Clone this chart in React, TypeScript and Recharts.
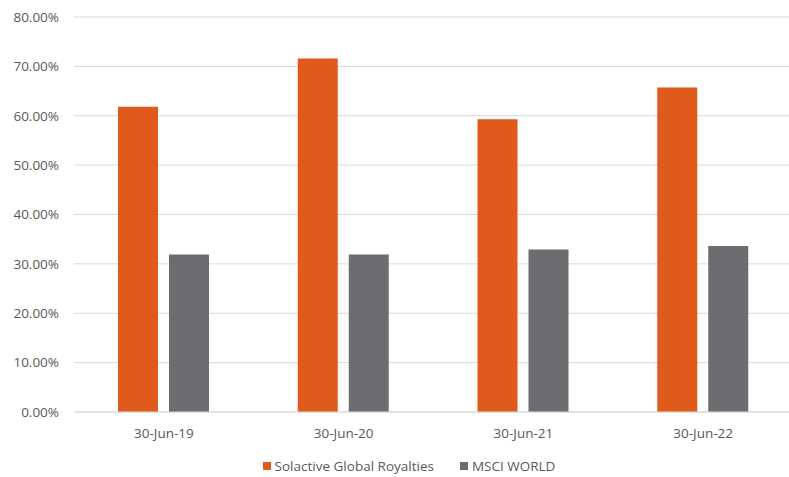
import React from "react";
import {
  BarChart,
  Bar,
  XAxis,
  YAxis,
  CartesianGrid,
  Legend,
} from "recharts";

const categories = ["30-Jun-19", "30-Jun-20", "30-Jun-21", "30-Jun-22"];
const solactive = [61.8, 71.6, 59.3, 65.7];
const msciWorld = [31.9, 31.9, 32.9, 33.6];
const yTicks = [0, 10, 20, 30, 40, 50, 60, 70, 80];
const edgeTicks = [0, 1, 2, 3, 4];

const SERIES = [
  { key: "solactive", name: "Solactive Global Royalties", color: "#E05A1B" },
  { key: "msci", name: "MSCI WORLD", color: "#6D6C71" },
];

const data = categories.map((c, i) => ({
  date: c,
  solactive: solactive[i],
  msci: msciWorld[i],
}));

const FONT = "'Open Sans', 'Noto Sans', sans-serif";
const TEXT = "#595959";
const GRID = "#D9D9D9";

const LegendContent = () => (
  <div
    style={{
      display: "flex",
      justifyContent: "center",
      paddingTop: 16,
      paddingLeft: 25,
      fontFamily: FONT,
      fontSize: 13.5,
      color: TEXT,
      lineHeight: "16px",
    }}
  >
    {SERIES.map((s, i) => (
      <div
        key={s.key}
        style={{ display: "flex", alignItems: "center", marginLeft: i ? 26 : 0 }}
      >
        <span
          style={{
            display: "inline-block",
            width: 8,
            height: 8,
            background: s.color,
            marginRight: 4,
          }}
        />
        <span>{s.name}</span>
      </div>
    ))}
  </div>
);

export default function App() {
  return (
    <div
      style={{
        position: "fixed",
        left: 0,
        top: 0,
        width: 789,
        height: 477,
        overflow: "hidden",
        background: "#fff",
      }}
    >
      <BarChart
        width={800}
        height={477}
        data={data}
        margin={{ top: 17, right: 7, bottom: 0, left: 0 }}
        barSize={40}
        barGap={11}
      >
        <CartesianGrid horizontal vertical={false} stroke={GRID} strokeWidth={1} />
        <XAxis
          xAxisId="edges"
          type="number"
          domain={[0, 4]}
          ticks={edgeTicks}
          tick={false}
          axisLine={false}
          tickLine={{ stroke: GRID }}
          tickSize={5}
          height={0}
        />
        <XAxis
          xAxisId="cat"
          dataKey="date"
          axisLine={{ stroke: GRID }}
          tickLine={false}
          tickSize={0}
          tickMargin={16}
          height={30}
          tick={{ fill: TEXT, fontSize: 13.5, fontFamily: FONT }}
        />
        <YAxis
          width={74}
          domain={[0, 80]}
          ticks={yTicks}
          interval={0}
          axisLine={false}
          tickLine={false}
          tickSize={0}
          tickMargin={15}
          tickFormatter={(v: number) => v.toFixed(2) + "%"}
          tick={{ fill: TEXT, fontSize: 13.5, fontFamily: FONT }}
        />
        <Legend verticalAlign="bottom" height={35} content={<LegendContent />} />
        {SERIES.map((s) => (
          <Bar
            key={s.key}
            xAxisId="cat"
            dataKey={s.key}
            name={s.name}
            fill={s.color}
            isAnimationActive={false}
          />
        ))}
      </BarChart>
    </div>
  );
}
